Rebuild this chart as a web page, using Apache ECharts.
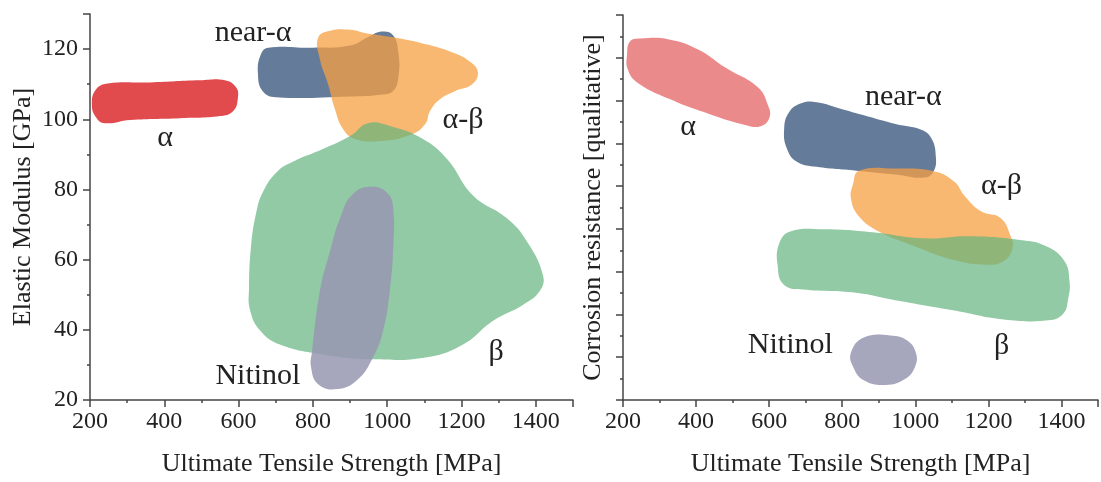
<!DOCTYPE html>
<html>
<head>
<meta charset="utf-8">
<script src="https://cdn.jsdelivr.net/npm/echarts/dist/echarts.min.js"></script>
<style>
  html, body { margin: 0; padding: 0; background: #fff; }
  #main { width: 1101px; height: 482px; }
</style>
</head>
<body>
<div id="main"></div>
<script>
// axis ranges
const uts = [200, 1500];          // Ultimate Tensile Strength [MPa]
const modulus = [20, 130];        // Elastic Modulus [GPa]
const corrosion = [0, 9];         // qualitative scale, no labels

// outlines of each region (x = MPa, y = GPa / qualitative units)
const alphaLeft = [[205,104.3],[216,108.5],[248,110.2],[361,110.5],[496,111.1],[563,111.1],[593,109.1],[598,106],[585,102.3],[550,100.9],[442,100.3],[308,99.8],[240,98.9],[216,100.6]];
const nearAlphaLeft = [[652,113],[660,118.5],[680,120.4],[800,120.4],[900,121],[950,123.5],[985,125],[1015,124],[1030,119],[1030,112],[1015,108],[980,107],[900,106.5],[700,106.3],[665,108]];
const alphaBetaLeft = [[814,123.2],[846,125.2],[900,125.5],[940,124.6],[1007,123.5],[1088,121.8],[1169,119.3],[1223,116.4],[1244,113.3],[1228,109.9],[1182,108],[1142,105.7],[1115,102.3],[1102,98.6],[1061,95.5],[981,93.8],[913,94.4],[881,97.2],[859,102.9],[841,109.9],[819,117]];
const betaLeft = [[631,45.5],[628,52],[633,63.3],[647,73.2],[666,79.4],[703,85],[746,87.9],[827,91.5],[900,95.2],[948,98.9],[1007,98.1],[1096,94.4],[1161,88.7],[1231,78.3],[1322,71.8],[1376,65.2],[1419,55.6],[1411,51.1],[1365,47.1],[1285,42.6],[1204,35.8],[1107,32.2],[962,31.6],[827,33],[711,35.8],[658,39.8]];
const nitinolLeft = [[962,80.8],[1002,78.8],[1016,74.6],[1016,63.3],[1007,51.1],[989,39.8],[962,32.2],[919,25.7],[865,23.1],[814,24.5],[795,29.3],[798,34.1],[819,51.1],[846,62.4],[873,71.8],[908,78.8]];

const alphaRight = [[219,8.38],[246,8.45],[326,8.43],[407,8.19],[480,7.77],[569,7.31],[596,6.91],[601,6.61],[577,6.40],[534,6.43],[434,6.69],[326,7.04],[238,7.43],[213,7.73],[211,8.07]];
const nearAlphaRight = [[655,6.73],[690,6.94],[730,6.96],[784,6.84],[857,6.66],[946,6.45],[1018,6.31],[1045,6.10],[1056,5.71],[1051,5.36],[1026,5.20],[946,5.27],[838,5.36],[730,5.45],[676,5.57],[649,5.87],[641,6.33]];
const alphaBetaRight = [[846,5.36],[946,5.41],[1053,5.34],[1107,5.10],[1134,4.78],[1180,4.41],[1234,4.25],[1260,3.85],[1266,3.55],[1242,3.25],[1196,3.16],[1107,3.27],[991,3.62],[900,3.94],[846,4.29],[824,4.71],[830,5.06]];
const betaRight = [[658,3.94],[749,3.99],[884,3.92],[1018,3.78],[1153,3.83],[1287,3.74],[1357,3.60],[1408,3.25],[1422,2.78],[1419,2.39],[1403,2.00],[1357,1.86],[1242,1.88],[1107,2.09],[954,2.32],[838,2.51],[703,2.58],[641,2.69],[623,3.16],[628,3.67]];
const nitinolRight = [[859,1.46],[932,1.51],[978,1.39],[1002,1.09],[999,0.77],[972,0.49],[919,0.35],[859,0.46],[830,0.77],[824,1.11]];

// region labels
const labelNames = ['near-α', 'α', 'α-β', 'Nitinol', 'β'];
const labelPosLeft = [[639,124.6],[402,94.7],[1204,99.8],[652,26.8],[1293,33.6]];
const labelPosRight = [[967,7.08],[378,6.38],[1236,5.01],[658,1.28],[1236,1.25]];

const FONT = '"Liberation Serif", "Times New Roman", serif';
const AXIS_COLOR = '#444';
const TEXT_COLOR = '#222';

const colors = {
  alphaL: 'rgba(222,60,62,0.92)',
  alphaR: 'rgba(222,60,62,0.6)',
  nearAlpha: 'rgba(80,105,140,0.88)',
  alphaBeta: 'rgba(247,160,65,0.75)',
  beta: 'rgba(98,179,126,0.7)',
  nitinol: 'rgba(150,150,178,0.85)'
};

let chart = echarts.init(document.getElementById('main'), null, { renderer: 'canvas' });

function blob(points, color, xi, yi) {
  return {
    type: 'custom',
    xAxisIndex: xi,
    yAxisIndex: yi,
    silent: true,
    data: points,
    renderItem: function (params, api) {
      if (params.dataIndex !== 0) return null;
      return {
        type: 'polygon',
        shape: { points: points.map(p => api.coord(p)), smooth: 0.45 },
        style: { fill: color }
      };
    }
  };
}

function labels(pos, xi, yi) {
  return {
    type: 'custom',
    xAxisIndex: xi,
    yAxisIndex: yi,
    silent: true,
    data: pos,
    renderItem: function (params, api) {
      let c = api.coord([api.value(0), api.value(1)]);
      return {
        type: 'text',
        x: c[0],
        y: c[1],
        style: {
          text: labelNames[params.dataIndex],
          fill: TEXT_COLOR,
          fontSize: 30,
          fontFamily: FONT,
          align: 'center',
          verticalAlign: 'middle'
        }
      };
    }
  };
}

// main x axis: minor ticks every 100, labels every 200
function xMain(grid) {
  return {
    type: 'value', gridIndex: grid, position: 'bottom',
    min: uts[0], max: uts[1], interval: 100,
    name: 'Ultimate Tensile Strength [MPa]', nameLocation: 'middle', nameGap: 51,
    nameTextStyle: { fontSize: 26, fontFamily: FONT, color: TEXT_COLOR },
    axisLine: { onZero: false, lineStyle: { color: AXIS_COLOR, width: 1.5 } },
    axisTick: { length: 3, lineStyle: { color: AXIS_COLOR, width: 1.5 } },
    axisLabel: {
      margin: 10, fontSize: 24, fontFamily: FONT, color: TEXT_COLOR,
      formatter: v => (v % 200 === 0 && v < 1500 ? String(v) : '')
    },
    splitLine: { show: false }
  };
}
// overlay for the longer major ticks
function xMajor(grid) {
  return {
    type: 'value', gridIndex: grid, position: 'bottom',
    min: uts[0], max: uts[1], interval: 200,
    axisLine: { show: false, onZero: false },
    axisTick: { length: 7, lineStyle: { color: AXIS_COLOR, width: 1.5 } },
    axisLabel: { show: false },
    splitLine: { show: false }
  };
}

let option = {
  animation: false,
  backgroundColor: '#fff',
  grid: [
    { left: 90, top: 14, width: 483, height: 389 },
    { left: 623, top: 15, width: 483, height: 388 }
  ],
  xAxis: [xMain(0), xMajor(0), xMain(1), xMajor(1)],
  yAxis: [
    {
      type: 'value', gridIndex: 0, position: 'left',
      min: modulus[0], max: modulus[1], interval: 10,
      name: 'Elastic Modulus [GPa]', nameLocation: 'middle', nameGap: 54,
      nameTextStyle: { fontSize: 26, fontFamily: FONT, color: TEXT_COLOR },
      axisLine: { onZero: false, lineStyle: { color: AXIS_COLOR, width: 1.5 } },
      axisTick: { length: 3, lineStyle: { color: AXIS_COLOR, width: 1.5 } },
      axisLabel: {
        margin: 12, fontSize: 24, fontFamily: FONT, color: TEXT_COLOR,
        formatter: v => (v % 20 === 0 && v <= 120 ? String(v) : '')
      },
      splitLine: { show: false }
    },
    {
      type: 'value', gridIndex: 0, position: 'left',
      min: modulus[0], max: modulus[1], interval: 20,
      axisLine: { show: false, onZero: false },
      axisTick: { length: 7, lineStyle: { color: AXIS_COLOR, width: 1.5 } },
      axisLabel: { show: false },
      splitLine: { show: false }
    },
    {
      type: 'value', gridIndex: 1, position: 'left',
      min: corrosion[0], max: corrosion[1], interval: 1,
      name: 'Corrosion resistance [qualitative]', nameLocation: 'middle', nameGap: 17,
      nameTextStyle: { fontSize: 26, fontFamily: FONT, color: TEXT_COLOR },
      axisLine: { onZero: false, lineStyle: { color: AXIS_COLOR, width: 1.5 } },
      axisTick: { length: 7, lineStyle: { color: AXIS_COLOR, width: 1.5 } },
      minorTick: { show: true, splitNumber: 2, length: 3, lineStyle: { color: AXIS_COLOR, width: 1.5 } },
      axisLabel: { show: false },
      splitLine: { show: false }
    }
  ],
  series: [
    blob(alphaLeft, colors.alphaL, 0, 0),
    blob(nearAlphaLeft, colors.nearAlpha, 0, 0),
    blob(alphaBetaLeft, colors.alphaBeta, 0, 0),
    blob(betaLeft, colors.beta, 0, 0),
    blob(nitinolLeft, colors.nitinol, 0, 0),
    labels(labelPosLeft, 0, 0),

    blob(alphaRight, colors.alphaR, 2, 2),
    blob(nearAlphaRight, colors.nearAlpha, 2, 2),
    blob(alphaBetaRight, colors.alphaBeta, 2, 2),
    blob(betaRight, colors.beta, 2, 2),
    blob(nitinolRight, colors.nitinol, 2, 2),
    labels(labelPosRight, 2, 2)
  ]
};

chart.setOption(option);
</script>
</body>
</html>
